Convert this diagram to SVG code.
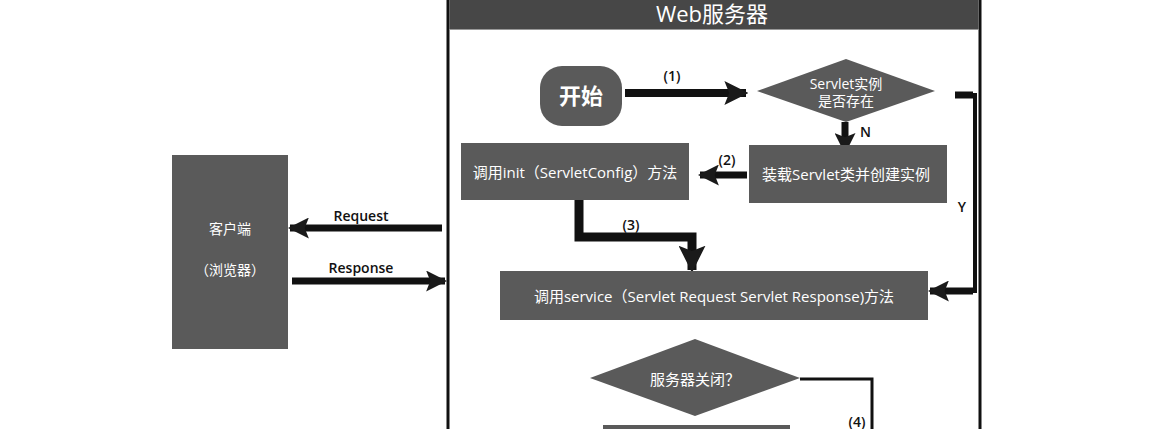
<svg xmlns="http://www.w3.org/2000/svg" width="1170" height="429" viewBox="0 0 1170 429">
<defs>
<style>
.node{fill:#5a5a5a;}
.wt{fill:#ffffff;font-family:"Open Sans","Noto Sans CJK SC",sans-serif;text-anchor:middle;dominant-baseline:central;}
.bt{fill:#111;font-family:"Open Sans","Noto Sans CJK SC",sans-serif;text-anchor:middle;font-size:14px;font-weight:600;}
.ln{stroke:#111;fill:none;}
</style>
<marker id="ah" viewBox="0 0 10 10" refX="9" refY="5" markerWidth="3" markerHeight="3" orient="auto" markerUnits="strokeWidth">
<path d="M0,0 L10,5 L0,10 L2,5 z" fill="#1a1a1a"/>
</marker>
</defs>
<rect width="1170" height="429" fill="#ffffff"/>
<g id="server">
<rect x="448" y="-5" width="532" height="440" fill="#ffffff" stroke="#111" stroke-width="3"/>
<rect x="449.5" y="-5" width="529" height="34" fill="#474747"/>
<line x1="449.5" y1="29.5" x2="978.5" y2="29.5" stroke="#999" stroke-width="1"/>
<text class="wt" x="712" y="13" font-size="22">Web服务器</text>
</g>
<g id="connectors">
<line class="ln" x1="625" y1="93" x2="746" y2="93" stroke-width="8" marker-end="url(#ah)"/>
<text class="bt" x="672" y="81">(1)</text>
<line class="ln" x1="845" y1="122" x2="845" y2="152" stroke-width="7" marker-end="url(#ah)"/>
<text class="bt" x="860" y="137" style="text-anchor:start">N</text>
<line class="ln" x1="747" y1="175" x2="700" y2="175" stroke-width="7" marker-end="url(#ah)"/>
<text class="bt" x="727" y="165">(2)</text>
<path class="ln" d="M955,95 H975 V291 H968" stroke-width="4"/>
<line class="ln" x1="955" y1="95" x2="973" y2="95" stroke-width="7"/>
<line class="ln" x1="973" y1="291" x2="930" y2="291" stroke-width="7" marker-end="url(#ah)"/>
<text class="bt" x="962" y="212">Y</text>
<path class="ln" d="M579,200 V237 H692 V270" stroke-width="9" marker-end="url(#ah)"/>
<text class="bt" x="631" y="230">(3)</text>
<line class="ln" x1="442" y1="228" x2="290" y2="228" stroke-width="7" marker-end="url(#ah)"/>
<text class="bt" x="361" y="221" font-size="15">Request</text>
<line class="ln" x1="292" y1="281" x2="445" y2="281" stroke-width="7" marker-end="url(#ah)"/>
<text class="bt" x="361" y="273" font-size="15">Response</text>
<path class="ln" d="M800,379 H872 V429" stroke-width="3"/>
<text class="bt" x="857" y="427">(4)</text>
</g>
<g id="start">
<rect class="node" x="540" y="66" width="82" height="60" rx="22"/>
<text class="wt" x="581" y="95" font-size="22" font-weight="600">开始</text>
</g>
<g id="exists">
<polygon class="node" points="757,91 846,59 935,91 846,122"/>
<text class="wt" x="846" y="83" font-size="14">Servlet实例</text>
<text class="wt" x="846" y="100" font-size="14">是否存在</text>
</g>
<g id="load">
<rect class="node" x="749" y="145" width="198" height="58"/>
<text class="wt" x="846" y="174" font-size="15">装载Servlet类并创建实例</text>
</g>
<g id="init">
<rect class="node" x="461" y="143" width="228" height="57"/>
<text class="wt" x="575" y="172" font-size="15">调用init（ServletConfig）方法</text>
</g>
<g id="service">
<rect class="node" x="500" y="271" width="428" height="49"/>
<text class="wt" x="714" y="296" font-size="15">调用service（Servlet Request Servlet Response)方法</text>
</g>
<g id="client">
<rect class="node" x="172" y="155" width="116" height="194"/>
<text class="wt" x="230" y="228" font-size="14">客户端</text>
<text class="wt" x="230" y="269" font-size="14">（浏览器）</text>
</g>
<g id="shutdown">
<polygon class="node" points="590,378 695,339 800,378 695,416"/>
<text class="wt" x="695" y="379" font-size="15">服务器关闭？</text>
</g>
<g id="destroy">
<rect class="node" x="603" y="425" width="187" height="20"/>
</g>
</svg>
